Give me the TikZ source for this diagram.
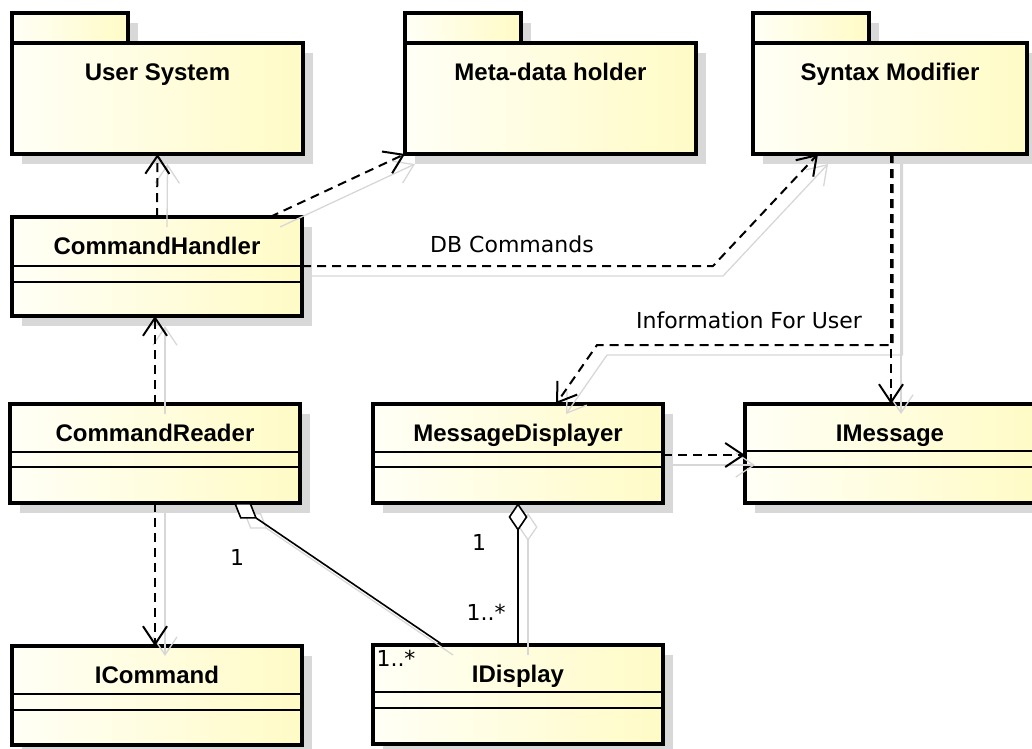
\documentclass[tikz,border=0pt]{standalone}
\usepackage{fontspec}
\setmainfont{Liberation Sans}
\newfontfamily\labelfont{DejaVu Sans}
\usetikzlibrary{arrows.meta,calc,shadows}

\definecolor{fillL}{RGB}{255,255,246}
\definecolor{fillR}{RGB}{255,251,198}
\definecolor{boxshadow}{RGB}{216,216,216}
\definecolor{lineshadow}{RGB}{215,215,215}

\tikzset{
  classbox/.style={draw=black, line width=3.2pt, left color=fillL, right color=fillR,
    inner sep=0pt, outer sep=0pt,
    general shadow={fill=boxshadow, shadow xshift=10pt, shadow yshift=-10pt}},
  titletext/.style={font=\fontsize{24}{26}\selectfont\bfseries, anchor=base, inner sep=0pt},
  lbl/.style={font=\labelfont\fontsize{22}{24}\selectfont, inner sep=0pt},
  sepline/.style={line width=1.2pt},
  dep/.style={line width=2pt, dash pattern=on 9pt off 6pt,
    -{Straight Barb[length=18pt,width=24pt,line width=2pt]}},
  depshadow/.style={draw=lineshadow, line width=1.3pt, solid,
    transform canvas={shift={(10pt,-10pt)}},
    -{Straight Barb[length=18pt,width=24pt,line width=1.3pt]}},
  agg/.style={line width=1.6pt, {Diamond[length=28pt,width=19pt,fill=white,line width=1.6pt]}-},
  aggshadow/.style={draw=lineshadow, line width=1.3pt,
    transform canvas={shift={(10pt,-10pt)}},
    {Diamond[length=28pt,width=19pt,fill=white,line width=1.3pt]}-},
}

% class box: name, x, y (top left), width, title, first and second separator offsets
\newcommand\umlclass[7]{%
  \node[classbox, minimum width=#4pt, minimum height=99pt, anchor=north west] (#1) at (#2,#3) {};
  \node[titletext] (#1-name) at ($(#1.north)+(0,37)$) {#5};
  \draw[sepline] ($(#1.north west)+(0,#6)$) -- ($(#1.north east)+(0,#6)$);
  \draw[sepline] ($(#1.north west)+(0,#7)$) -- ($(#1.north east)+(0,#7)$);
}
% package: name, x, y (top left of body), width, title
\newcommand\umlpackage[5]{%
  \node[classbox, minimum width=116pt, minimum height=30pt, anchor=south west] (#1-tab) at (#2,#3) {};
  \node[classbox, minimum width=#4pt, minimum height=111pt, anchor=north west] (#1) at (#2,#3) {};
  \node[titletext] (#1-name) at ($(#1.north)+(0,37)$) {#5};
}
% connector together with its soft offset shadow
\newcommand\linkpath[2]{\draw[#1shadow] #2; \draw[#1] #2;}

\begin{document}
\begin{tikzpicture}[x=1pt,y=-1pt]
\useasboundingbox (0,0) rectangle (1032,748);

% packages
\umlpackage{us}{12}{43}{291}{User System}
\umlpackage{mh}{405}{43}{291}{Meta-data holder}
\umlpackage{sm}{753}{43}{274}{Syntax Modifier}

% classes
\umlclass{ch}{12}{217}{290}{CommandHandler}{49}{65}
\umlclass{cr}{10}{404}{290}{CommandReader}{48}{63}
\umlclass{md}{373}{404}{290}{MessageDisplayer}{48}{63}
\umlclass{im}{745}{404}{290}{IMessage}{47}{63}
\umlclass{ic}{12}{646}{290}{ICommand}{48}{64}
\umlclass{id}{373}{645}{290}{IDisplay}{47}{63}

% bend points
\coordinate (dbbend) at (713,266);
\coordinate (infodown) at (892.5,345);
\coordinate (infoleft) at (597,345);

% dependencies
\linkpath{dep}{(ch.north) -- (us.south)}
\linkpath{dep}{($(ch.north west)+(258,0)$) -- (mh.south west)}
\linkpath{dep}{($(ch.north east)+(0,49)$) -- (dbbend) -- ($(sm.south west)+(65,0)$)}
\linkpath{dep}{($(sm.south west)+(139.5,0)$) -- (infodown) -- (infoleft) -- ($(md.north west)+(183,0)$)}
\linkpath{dep}{($(sm.south west)+(138,0)$) -- ($(im.north west)+(146,0)$)}
\linkpath{dep}{(cr.north) -- (cr.north |- ch.south)}
\linkpath{dep}{(cr.south) -- (cr.south |- ic.north)}
\linkpath{dep}{($(md.north east)+(0,51)$) -- ($(im.north west)+(0,51)$)}

% aggregations
\linkpath{agg}{($(cr.south west)+(224,0)$) -- ($(id.north west)+(70,0)$)}
\linkpath{agg}{(md.south) -- (md.south |- id.north)}

% labels
\node[lbl] (dbl) at (512,244) {DB Commands};
\node[lbl] (ifu) at (749,320) {Information For User};
\node[lbl] (m1) at (237,557) {1};
\node[lbl] (m2) at (479,542) {1};
\node[lbl] (m3) at (486,612) {1..*};
\node[lbl] (m4) at (396,658) {1..*};
\end{tikzpicture}
\end{document}
